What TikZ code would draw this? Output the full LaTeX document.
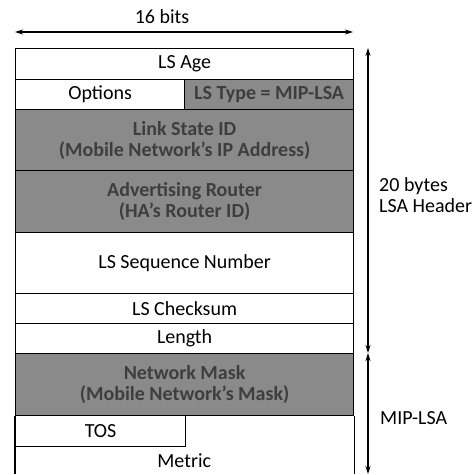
\documentclass[tikz,border=0pt]{standalone}
\usepackage{fontspec}
\setmainfont{Carlito}
\usetikzlibrary{arrows.meta}
\definecolor{shade}{RGB}{138,138,138}
\definecolor{shadetext}{RGB}{62,62,62}
\begin{document}
\begin{tikzpicture}[x=1pt,y=-1pt,
  every node/.style={font=\fontsize{20}{21}\selectfont},
  cell/.style={draw, line width=1.2pt, anchor=north west, inner sep=0pt, align=center},
  graycell/.style={cell, fill=shade, text=shadetext, font=\fontsize{20}{21}\selectfont\bfseries},
  dim/.style={line width=1.1pt, {Stealth[length=8pt,width=5pt]}-{Stealth[length=8pt,width=5pt]}}]
\useasboundingbox (0,0) rectangle (476,474);
% header cells
\node[cell, minimum width=338pt, minimum height=31pt] (age) at (15,48) {LS Age};
\node[cell, minimum width=169pt, minimum height=30pt] (opt) at (15,79) {Options};
\node[graycell, minimum width=169pt, minimum height=30pt] (type) at (184,79) {LS Type = MIP-LSA};
\node[graycell, minimum width=338pt, minimum height=61pt] (lsid) at (15,109) {Link State ID\\(Mobile Network's IP Address)};
\node[graycell, minimum width=338pt, minimum height=62pt] (adv) at (15,170) {Advertising Router\\(HA's Router ID)};
\node[cell, minimum width=338pt, minimum height=61pt] (seq) at (15,232) {LS Sequence Number};
\node[cell, minimum width=338pt, minimum height=30pt] (cks) at (15,293) {LS Checksum};
\node[cell, minimum width=338pt, minimum height=30pt] (len) at (15,323) {Length};
% MIP-LSA body
\node[graycell, minimum width=338pt, minimum height=62pt] (mask) at (15,353) {Network Mask\\(Mobile Network's Mask)};
\node[anchor=north west, inner sep=0pt, minimum width=338pt, minimum height=28pt] (metric) at (15,446) {Metric};
\node[cell, minimum width=170pt, minimum height=31pt] (tos) at (15,415) {TOS};
\draw[line width=1.2pt] (mask.south west) -- (mask.south west |- metric.south);
\draw[line width=1.2pt] (mask.south east) -- (mask.south east |- metric.south);
% 16 bits dimension
\coordinate (bl) at (15,32);
\coordinate (br) at (353,32);
\draw[dim] (bl) -- (br);
\node (bits) at (162,17) {16 bits};
% right dimensions
\coordinate (htop) at (368,48);
\coordinate (hmid) at (368,353);
\coordinate (hbot) at (368,474);
\draw[dim] (htop) -- (hmid);
\draw[dim] (hmid) -- (hbot);
\node[anchor=west, align=left, inner sep=0pt] (hdr) at (379,195) {20 bytes\\LSA Header};
\node[anchor=west, inner sep=0pt] (mip) at (380,418) {MIP-LSA};
\end{tikzpicture}
\end{document}
